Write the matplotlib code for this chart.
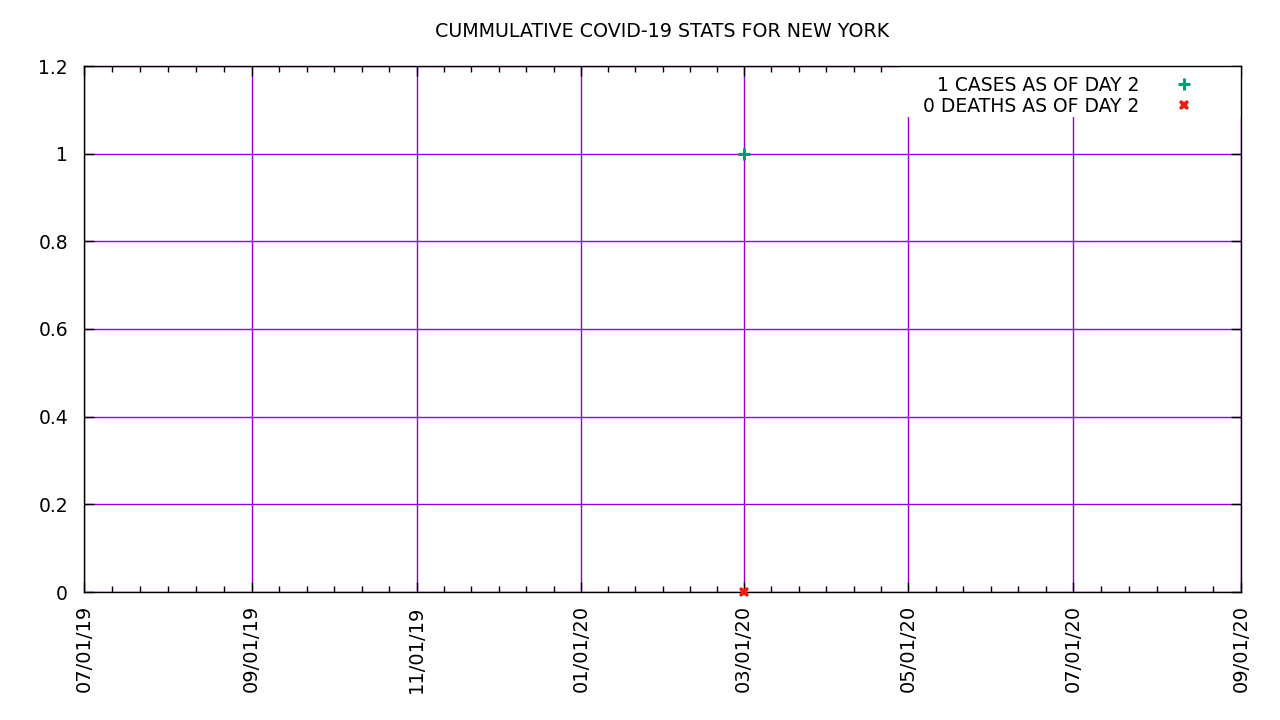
import matplotlib
matplotlib.use("Agg")
import matplotlib.pyplot as plt
import matplotlib.dates as mdates
from matplotlib.patches import Rectangle
import numpy as np
from datetime import datetime

# データ
dates = [datetime(2020, 3, 1)]
cases = [1]
deaths = [0]
case_label = "1 CASES AS OF DAY 2"
death_label = "0 DEATHS AS OF DAY 2"
title = "CUMMULATIVE COVID-19 STATS FOR NEW YORK"

x_min, x_max = datetime(2019, 7, 1), datetime(2020, 9, 1)
major_dates = [datetime(2019, 7, 1), datetime(2019, 9, 1), datetime(2019, 11, 1),
               datetime(2020, 1, 1), datetime(2020, 3, 1), datetime(2020, 5, 1),
               datetime(2020, 7, 1), datetime(2020, 9, 1)]
y_ticks = [0, 0.2, 0.4, 0.6, 0.8, 1, 1.2]
y_labels = ["0", "0.2", "0.4", "0.6", "0.8", "1", "1.2"]

plt.rcParams['font.family'] = ['DejaVu Sans']
fig = plt.figure(figsize=(12.8, 7.2), dpi=100)
ax = fig.add_axes([84 / 1280, 1 - 592 / 720, (1241 - 84) / 1280, (592 - 66) / 720])

ax.plot(dates, cases, linestyle='none', marker='+', color='#009E73', markersize=9,
        markeredgewidth=2.2, label=case_label, zorder=6, clip_on=False)
ax.plot(dates, deaths, linestyle='none', marker='X', color='#ee1c10', markersize=7.5,
        markeredgewidth=0, label=death_label, zorder=6, clip_on=False)

ax.set_xlim(x_min, x_max)
ax.set_ylim(0, 1.2)

# 目盛り（主目盛りの間を6分割した補助目盛り）
major_num = mdates.date2num(major_dates)
minor_num = []
for a, b in zip(major_num[:-1], major_num[1:]):
    minor_num.extend(np.linspace(a, b, 7)[1:-1])
ax.set_xticks(major_num)
ax.set_xticks(minor_num, minor=True)
ax.xaxis.set_major_formatter(mdates.DateFormatter('%m/%d/%y'))
ax.set_yticks(y_ticks)
ax.set_yticklabels(y_labels)
ax.tick_params(axis='both', which='both', direction='in', top=True, right=True,
               labelsize=14, width=1)
ax.tick_params(which='major', length=7)
ax.tick_params(which='minor', length=4)
ax.tick_params(axis='x', pad=9.5)
ax.tick_params(axis='y', pad=11.5, labelsize=13.5)
for lab in ax.get_xticklabels():
    lab.set_rotation(90)

ax.grid(True, which='major', color='#9400D3', linewidth=1)
ax.set_axisbelow(True)
for sp in ax.spines.values():
    sp.set_color('black')
    sp.set_linewidth(1)

ax.set_title(title, fontsize=13.7, pad=21)

# 凡例の背景（白抜き、グリッドの上・枠線の下）
ax.add_patch(Rectangle((0.705, 0.903), 0.295, 0.097, transform=ax.transAxes,
                       facecolor='white', edgecolor='none', zorder=1.5))

leg = ax.legend(loc='upper right', bbox_to_anchor=(0.9585, 0.981), markerfirst=False,
                fontsize=13.5, frameon=False, borderaxespad=0, borderpad=0,
                handlelength=1.0, handletextpad=1.85, labelspacing=0.105)
leg.set_zorder(10)

plt.savefig("out.png", dpi=100)
plt.close()
